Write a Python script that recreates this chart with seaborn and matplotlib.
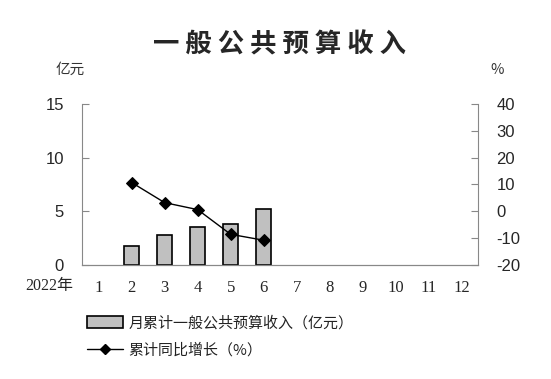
import pandas as pd
import seaborn as sns
import matplotlib.pyplot as plt
from matplotlib.patches import Patch
from matplotlib.lines import Line2D

months = ['1', '2', '3', '4', '5', '6', '7', '8', '9', '10', '11', '12']
bar_months = ['2', '3', '4', '5', '6']
revenue = [1.8, 2.75, 3.5, 3.8, 5.25]          # 亿元
growth = [10.7, 3.2, 0.6, -8.6, -10.8]          # %

title = '一般公共预算收入'
bar_label = '月累计一般公共预算收入（亿元）'
line_label = '累计同比增长（%）'

sns.set_theme(style='white')
plt.rcParams['font.family'] = ['Noto Sans CJK SC', 'DejaVu Sans']
plt.rcParams['axes.unicode_minus'] = False

df = pd.DataFrame({'month': bar_months, 'revenue': revenue, 'growth': growth})

fig = plt.figure(figsize=(5.51, 3.79), dpi=100)
ax = fig.add_axes([0.149, 0.301, 0.719, 0.425])

sns.barplot(data=df, x='month', y='revenue', order=months, ax=ax,
            color='#c0c0c0', edgecolor='black', linewidth=1.2, width=0.45,
            saturation=1)
ax2 = ax.twinx()
sns.pointplot(data=df, x='month', y='growth', order=months, ax=ax2,
              color='black', markers='D', markersize=6, linewidth=1,
              errorbar=None)

ax.set_xlim(-0.5, 11.5)
ax.set_ylim(0, 15)
ax.set_yticks([0, 5, 10, 15])
ax2.set_ylim(-20, 40)
ax2.set_yticks(range(-20, 41, 10))
ax.set_xlabel('')
ax.set_ylabel('')
ax2.set_ylabel('')

grey = '#888888'
for a in (ax, ax2):
    for side in a.spines:
        a.spines[side].set_color(grey)
        a.spines[side].set_linewidth(0.8)
    a.spines['top'].set_visible(False)
ax.spines['right'].set_visible(False)
ax2.spines['left'].set_visible(False)

# category boundary ticks on the x axis, labels centred under categories
ax.set_xticks([i + 0.5 for i in range(11)], minor=False)
ax.set_xticklabels([])
ax.tick_params(axis='x', direction='in', length=5, color=grey, width=0.8)
ax.set_xticks(range(12), minor=True)
ax.set_xticklabels(months, minor=True, family='Liberation Serif', fontsize=12)
ax.tick_params(axis='x', which='minor', length=0, pad=11)
ax.tick_params(axis='y', direction='in', length=5, color=grey, width=0.8, pad=13,
               left=True, labelsize=12)
ax2.tick_params(axis='y', direction='in', length=5, color=grey, width=0.8, pad=13,
                right=True, labelsize=12)
for lbl in ax.get_yticklabels() + ax2.get_yticklabels():
    lbl.set_family('Liberation Sans')

fig.text(0.508, 0.882, ' '.join(title), ha='center', va='center', fontsize=19,
         fontweight='bold')
fig.text(0.128, 0.815, '亿元', ha='center', va='center', fontsize=10.5,
         color='#333333')
fig.text(0.902, 0.815, '%', ha='center', va='center', fontsize=10.5,
         color='#333333')
fig.text(0.09, 0.245, '2022年', ha='center', va='center', fontsize=11.5,
         family=['Liberation Serif', 'Noto Sans CJK SC'])

handles = [Patch(facecolor='#c0c0c0', edgecolor='black', linewidth=1.2),
           Line2D([], [], color='black', marker='D', markersize=5, linewidth=1)]
leg = fig.legend(handles, [bar_label, line_label], loc='upper left',
                 bbox_to_anchor=(0.145, 0.187), frameon=False, fontsize=10.8,
                 handlelength=2.4, handleheight=0.9, handletextpad=0.35,
                 labelspacing=0.85, borderpad=0)
for t in leg.get_texts():
    t.set_color('#222222')

fig.savefig('out.png', dpi=100)
